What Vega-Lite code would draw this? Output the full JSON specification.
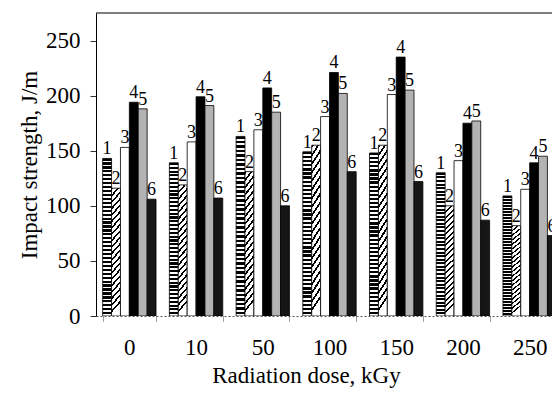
{
  "$schema": "https://vega.github.io/schema/vega-lite/v6.json",
  "width": 456,
  "height": 303,
  "autosize": {"type": "none"},
  "padding": {"left": 96, "top": 13, "right": 0, "bottom": 77},
  "background": "white",
  "config": {"view": {"stroke": null}, "font": "Liberation Serif", "text": {"font": "Liberation Serif"}},
  "layer": [
    {
      "data": {"values": [{"top": 275}]},
      "mark": {"type": "rule", "color": "black", "strokeWidth": 1},
      "encoding": {"y": {"field": "top", "type": "quantitative"}}
    },
    {
      "data": {"name": "bars", "values": [
        {"dose": "0", "series": "1", "value": 143}, {"dose": "0", "series": "2", "value": 116}, {"dose": "0", "series": "3", "value": 153}, {"dose": "0", "series": "4", "value": 194}, {"dose": "0", "series": "5", "value": 188}, {"dose": "0", "series": "6", "value": 106},
        {"dose": "10", "series": "1", "value": 139}, {"dose": "10", "series": "2", "value": 119}, {"dose": "10", "series": "3", "value": 158}, {"dose": "10", "series": "4", "value": 199}, {"dose": "10", "series": "5", "value": 191}, {"dose": "10", "series": "6", "value": 107},
        {"dose": "50", "series": "1", "value": 163}, {"dose": "50", "series": "2", "value": 131}, {"dose": "50", "series": "3", "value": 169}, {"dose": "50", "series": "4", "value": 207}, {"dose": "50", "series": "5", "value": 185}, {"dose": "50", "series": "6", "value": 100},
        {"dose": "100", "series": "1", "value": 149}, {"dose": "100", "series": "2", "value": 155}, {"dose": "100", "series": "3", "value": 181}, {"dose": "100", "series": "4", "value": 221}, {"dose": "100", "series": "5", "value": 202}, {"dose": "100", "series": "6", "value": 131},
        {"dose": "150", "series": "1", "value": 148}, {"dose": "150", "series": "2", "value": 155}, {"dose": "150", "series": "3", "value": 201}, {"dose": "150", "series": "4", "value": 235}, {"dose": "150", "series": "5", "value": 205}, {"dose": "150", "series": "6", "value": 122},
        {"dose": "200", "series": "1", "value": 130}, {"dose": "200", "series": "2", "value": 100}, {"dose": "200", "series": "3", "value": 141}, {"dose": "200", "series": "4", "value": 175}, {"dose": "200", "series": "5", "value": 177}, {"dose": "200", "series": "6", "value": 87},
        {"dose": "250", "series": "1", "value": 109}, {"dose": "250", "series": "2", "value": 82}, {"dose": "250", "series": "3", "value": 115}, {"dose": "250", "series": "4", "value": 139}, {"dose": "250", "series": "5", "value": 145}, {"dose": "250", "series": "6", "value": 73}
      ]},
      "encoding": {
        "x": {
          "field": "dose", "type": "nominal", "sort": null,
          "scale": {"range": [0, 467], "paddingInner": 0.2, "paddingOuter": 0.1},
          "axis": {
            "title": "Radiation dose, kGy", "labelAngle": 0, "labelFontSize": 23, "labelColor": "black",
            "labelPadding": 14, "tickBand": "extent", "tickSize": 6, "tickColor": "#444", "tickDash": [1, 1],
            "domainColor": "#555", "domainDash": [2, 2], "titleFontSize": 23, "titleFontWeight": "normal",
            "titleColor": "black", "titlePadding": 5, "titleX": 210
          }
        },
        "xOffset": {"field": "series", "type": "nominal", "scale": {"paddingInner": 0, "paddingOuter": 0}},
        "y": {
          "field": "value", "type": "quantitative",
          "scale": {"domain": [0, 275], "nice": false},
          "axis": {
            "title": "Impact strength, J/m", "values": [0, 50, 100, 150, 200, 250], "grid": false,
            "labelFontSize": 23, "labelColor": "black", "labelPadding": 10, "tickSize": 6, "tickColor": "#333",
            "domainColor": "black", "titleFontSize": 23, "titleFontWeight": "normal", "titleColor": "black", "titlePadding": 4
          }
        }
      },
      "layer": [
        {
          "mark": {"type": "bar", "stroke": "black", "strokeWidth": 0.8, "clip": true},
          "encoding": {
            "fill": {
              "condition": [
                {"test": "datum.series == '1'", "value": {"gradient": "linear", "x1": 0, "y1": 0, "x2": 0, "y2": 1, "stops": [
                  {"offset": 0, "color": "#000"}, {"offset": 0.014, "color": "#000"}, {"offset": 0.014, "color": "#fff"}, {"offset": 0.025, "color": "#fff"},
                  {"offset": 0.025, "color": "#000"}, {"offset": 0.039, "color": "#000"}, {"offset": 0.039, "color": "#fff"}, {"offset": 0.05, "color": "#fff"},
                  {"offset": 0.05, "color": "#000"}, {"offset": 0.064, "color": "#000"}, {"offset": 0.064, "color": "#fff"}, {"offset": 0.075, "color": "#fff"},
                  {"offset": 0.075, "color": "#000"}, {"offset": 0.089, "color": "#000"}, {"offset": 0.089, "color": "#fff"}, {"offset": 0.1, "color": "#fff"},
                  {"offset": 0.1, "color": "#000"}, {"offset": 0.114, "color": "#000"}, {"offset": 0.114, "color": "#fff"}, {"offset": 0.125, "color": "#fff"},
                  {"offset": 0.125, "color": "#000"}, {"offset": 0.139, "color": "#000"}, {"offset": 0.139, "color": "#fff"}, {"offset": 0.15, "color": "#fff"},
                  {"offset": 0.15, "color": "#000"}, {"offset": 0.164, "color": "#000"}, {"offset": 0.164, "color": "#fff"}, {"offset": 0.175, "color": "#fff"},
                  {"offset": 0.175, "color": "#000"}, {"offset": 0.189, "color": "#000"}, {"offset": 0.189, "color": "#fff"}, {"offset": 0.2, "color": "#fff"},
                  {"offset": 0.2, "color": "#000"}, {"offset": 0.214, "color": "#000"}, {"offset": 0.214, "color": "#fff"}, {"offset": 0.225, "color": "#fff"},
                  {"offset": 0.225, "color": "#000"}, {"offset": 0.239, "color": "#000"}, {"offset": 0.239, "color": "#fff"}, {"offset": 0.25, "color": "#fff"},
                  {"offset": 0.25, "color": "#000"}, {"offset": 0.264, "color": "#000"}, {"offset": 0.264, "color": "#fff"}, {"offset": 0.275, "color": "#fff"},
                  {"offset": 0.275, "color": "#000"}, {"offset": 0.289, "color": "#000"}, {"offset": 0.289, "color": "#fff"}, {"offset": 0.3, "color": "#fff"},
                  {"offset": 0.3, "color": "#000"}, {"offset": 0.314, "color": "#000"}, {"offset": 0.314, "color": "#fff"}, {"offset": 0.325, "color": "#fff"},
                  {"offset": 0.325, "color": "#000"}, {"offset": 0.339, "color": "#000"}, {"offset": 0.339, "color": "#fff"}, {"offset": 0.35, "color": "#fff"},
                  {"offset": 0.35, "color": "#000"}, {"offset": 0.364, "color": "#000"}, {"offset": 0.364, "color": "#fff"}, {"offset": 0.375, "color": "#fff"},
                  {"offset": 0.375, "color": "#000"}, {"offset": 0.389, "color": "#000"}, {"offset": 0.389, "color": "#fff"}, {"offset": 0.4, "color": "#fff"},
                  {"offset": 0.4, "color": "#000"}, {"offset": 0.414, "color": "#000"}, {"offset": 0.414, "color": "#fff"}, {"offset": 0.425, "color": "#fff"},
                  {"offset": 0.425, "color": "#000"}, {"offset": 0.439, "color": "#000"}, {"offset": 0.439, "color": "#fff"}, {"offset": 0.45, "color": "#fff"},
                  {"offset": 0.45, "color": "#000"}, {"offset": 0.464, "color": "#000"}, {"offset": 0.464, "color": "#fff"}, {"offset": 0.475, "color": "#fff"},
                  {"offset": 0.475, "color": "#000"}, {"offset": 0.489, "color": "#000"}, {"offset": 0.489, "color": "#fff"}, {"offset": 0.5, "color": "#fff"},
                  {"offset": 0.5, "color": "#000"}, {"offset": 0.514, "color": "#000"}, {"offset": 0.514, "color": "#fff"}, {"offset": 0.525, "color": "#fff"},
                  {"offset": 0.525, "color": "#000"}, {"offset": 0.539, "color": "#000"}, {"offset": 0.539, "color": "#fff"}, {"offset": 0.55, "color": "#fff"},
                  {"offset": 0.55, "color": "#000"}, {"offset": 0.564, "color": "#000"}, {"offset": 0.564, "color": "#fff"}, {"offset": 0.575, "color": "#fff"},
                  {"offset": 0.575, "color": "#000"}, {"offset": 0.589, "color": "#000"}, {"offset": 0.589, "color": "#fff"}, {"offset": 0.6, "color": "#fff"},
                  {"offset": 0.6, "color": "#000"}, {"offset": 0.614, "color": "#000"}, {"offset": 0.614, "color": "#fff"}, {"offset": 0.625, "color": "#fff"},
                  {"offset": 0.625, "color": "#000"}, {"offset": 0.639, "color": "#000"}, {"offset": 0.639, "color": "#fff"}, {"offset": 0.65, "color": "#fff"},
                  {"offset": 0.65, "color": "#000"}, {"offset": 0.664, "color": "#000"}, {"offset": 0.664, "color": "#fff"}, {"offset": 0.675, "color": "#fff"},
                  {"offset": 0.675, "color": "#000"}, {"offset": 0.689, "color": "#000"}, {"offset": 0.689, "color": "#fff"}, {"offset": 0.7, "color": "#fff"},
                  {"offset": 0.7, "color": "#000"}, {"offset": 0.714, "color": "#000"}, {"offset": 0.714, "color": "#fff"}, {"offset": 0.725, "color": "#fff"},
                  {"offset": 0.725, "color": "#000"}, {"offset": 0.739, "color": "#000"}, {"offset": 0.739, "color": "#fff"}, {"offset": 0.75, "color": "#fff"},
                  {"offset": 0.75, "color": "#000"}, {"offset": 0.764, "color": "#000"}, {"offset": 0.764, "color": "#fff"}, {"offset": 0.775, "color": "#fff"},
                  {"offset": 0.775, "color": "#000"}, {"offset": 0.789, "color": "#000"}, {"offset": 0.789, "color": "#fff"}, {"offset": 0.8, "color": "#fff"},
                  {"offset": 0.8, "color": "#000"}, {"offset": 0.814, "color": "#000"}, {"offset": 0.814, "color": "#fff"}, {"offset": 0.825, "color": "#fff"},
                  {"offset": 0.825, "color": "#000"}, {"offset": 0.839, "color": "#000"}, {"offset": 0.839, "color": "#fff"}, {"offset": 0.85, "color": "#fff"},
                  {"offset": 0.85, "color": "#000"}, {"offset": 0.864, "color": "#000"}, {"offset": 0.864, "color": "#fff"}, {"offset": 0.875, "color": "#fff"},
                  {"offset": 0.875, "color": "#000"}, {"offset": 0.889, "color": "#000"}, {"offset": 0.889, "color": "#fff"}, {"offset": 0.9, "color": "#fff"},
                  {"offset": 0.9, "color": "#000"}, {"offset": 0.914, "color": "#000"}, {"offset": 0.914, "color": "#fff"}, {"offset": 0.925, "color": "#fff"},
                  {"offset": 0.925, "color": "#000"}, {"offset": 0.939, "color": "#000"}, {"offset": 0.939, "color": "#fff"}, {"offset": 0.95, "color": "#fff"},
                  {"offset": 0.95, "color": "#000"}, {"offset": 0.964, "color": "#000"}, {"offset": 0.964, "color": "#fff"}, {"offset": 0.975, "color": "#fff"},
                  {"offset": 0.975, "color": "#000"}, {"offset": 0.989, "color": "#000"}, {"offset": 0.989, "color": "#fff"}, {"offset": 1, "color": "#fff"}
                ]}},
                {"test": "datum.series == '2'", "value": {"gradient": "linear", "x1": 0, "y1": 0, "x2": 0.08, "y2": 1, "stops": [
                  {"offset": 0, "color": "#000"}, {"offset": 0.018, "color": "#000"}, {"offset": 0.018, "color": "#fff"}, {"offset": 0.05, "color": "#fff"},
                  {"offset": 0.05, "color": "#000"}, {"offset": 0.068, "color": "#000"}, {"offset": 0.068, "color": "#fff"}, {"offset": 0.1, "color": "#fff"},
                  {"offset": 0.1, "color": "#000"}, {"offset": 0.118, "color": "#000"}, {"offset": 0.118, "color": "#fff"}, {"offset": 0.15, "color": "#fff"},
                  {"offset": 0.15, "color": "#000"}, {"offset": 0.168, "color": "#000"}, {"offset": 0.168, "color": "#fff"}, {"offset": 0.2, "color": "#fff"},
                  {"offset": 0.2, "color": "#000"}, {"offset": 0.218, "color": "#000"}, {"offset": 0.218, "color": "#fff"}, {"offset": 0.25, "color": "#fff"},
                  {"offset": 0.25, "color": "#000"}, {"offset": 0.268, "color": "#000"}, {"offset": 0.268, "color": "#fff"}, {"offset": 0.3, "color": "#fff"},
                  {"offset": 0.3, "color": "#000"}, {"offset": 0.318, "color": "#000"}, {"offset": 0.318, "color": "#fff"}, {"offset": 0.35, "color": "#fff"},
                  {"offset": 0.35, "color": "#000"}, {"offset": 0.368, "color": "#000"}, {"offset": 0.368, "color": "#fff"}, {"offset": 0.4, "color": "#fff"},
                  {"offset": 0.4, "color": "#000"}, {"offset": 0.418, "color": "#000"}, {"offset": 0.418, "color": "#fff"}, {"offset": 0.45, "color": "#fff"},
                  {"offset": 0.45, "color": "#000"}, {"offset": 0.468, "color": "#000"}, {"offset": 0.468, "color": "#fff"}, {"offset": 0.5, "color": "#fff"},
                  {"offset": 0.5, "color": "#000"}, {"offset": 0.518, "color": "#000"}, {"offset": 0.518, "color": "#fff"}, {"offset": 0.55, "color": "#fff"},
                  {"offset": 0.55, "color": "#000"}, {"offset": 0.568, "color": "#000"}, {"offset": 0.568, "color": "#fff"}, {"offset": 0.6, "color": "#fff"},
                  {"offset": 0.6, "color": "#000"}, {"offset": 0.618, "color": "#000"}, {"offset": 0.618, "color": "#fff"}, {"offset": 0.65, "color": "#fff"},
                  {"offset": 0.65, "color": "#000"}, {"offset": 0.668, "color": "#000"}, {"offset": 0.668, "color": "#fff"}, {"offset": 0.7, "color": "#fff"},
                  {"offset": 0.7, "color": "#000"}, {"offset": 0.718, "color": "#000"}, {"offset": 0.718, "color": "#fff"}, {"offset": 0.75, "color": "#fff"},
                  {"offset": 0.75, "color": "#000"}, {"offset": 0.768, "color": "#000"}, {"offset": 0.768, "color": "#fff"}, {"offset": 0.8, "color": "#fff"},
                  {"offset": 0.8, "color": "#000"}, {"offset": 0.818, "color": "#000"}, {"offset": 0.818, "color": "#fff"}, {"offset": 0.85, "color": "#fff"},
                  {"offset": 0.85, "color": "#000"}, {"offset": 0.868, "color": "#000"}, {"offset": 0.868, "color": "#fff"}, {"offset": 0.9, "color": "#fff"},
                  {"offset": 0.9, "color": "#000"}, {"offset": 0.918, "color": "#000"}, {"offset": 0.918, "color": "#fff"}, {"offset": 0.95, "color": "#fff"},
                  {"offset": 0.95, "color": "#000"}, {"offset": 0.968, "color": "#000"}, {"offset": 0.968, "color": "#fff"}, {"offset": 1, "color": "#fff"}
                ]}},
                {"test": "datum.series == '3'", "value": "#ffffff"},
                {"test": "datum.series == '4'", "value": "#000000"},
                {"test": "datum.series == '5'", "value": "#b3b3b3"}
              ],
              "value": "#161616"
            }
          }
        },
        {
          "mark": {"type": "text", "baseline": "bottom", "dy": 0, "fontSize": 18, "font": "Liberation Serif", "color": "black", "clip": true},
          "encoding": {"text": {"field": "series"}}
        }
      ]
    }
  ]
}
